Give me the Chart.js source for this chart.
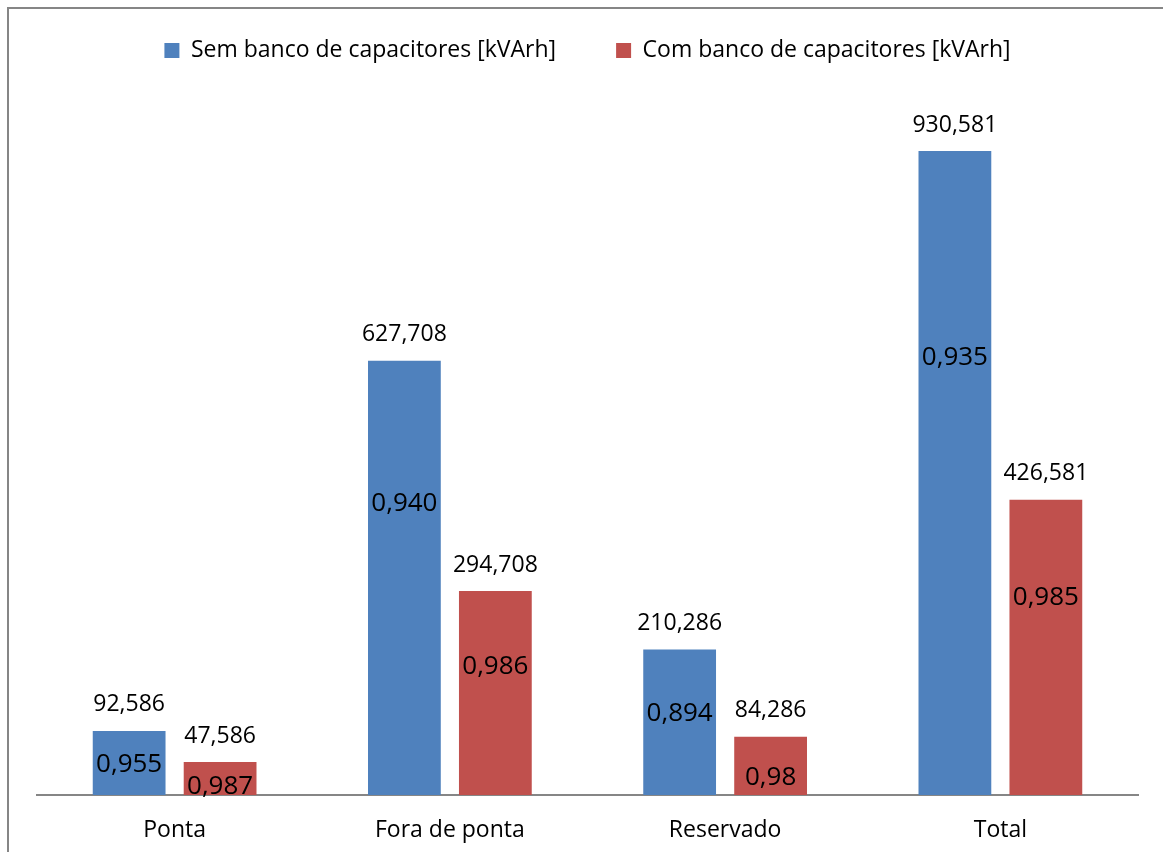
<!DOCTYPE html>
<html lang="pt">
  <head>
    <meta charset="UTF-8" />
    <title>Energia reativa</title>
    <script src="https://cdn.jsdelivr.net/npm/chart.js"></script>
    <style>
      html, body { margin: 0; padding: 0; background: #fff; }
      #wrap { width: 1163px; height: 852px; }
    </style>
  </head>
  <body>
    <div id="wrap"><canvas id="myChart"></canvas></div>

    <script>
      // categorias e series (kVArh)
      const categorias = ['Ponta', 'Fora de ponta', 'Reservado', 'Total'];
      const semBanco = [92.586, 627.708, 210.286, 930.581];
      const comBanco = [47.586, 294.708, 84.286, 426.581];
      // fator de potencia de cada barra
      const fpSem = ['0,955', '0,940', '0,894', '0,935'];
      const fpCom = ['0,987', '0,986', '0,98', '0,985'];

      const FONT = "'Open Sans', sans-serif";

      // moldura cinza (so topo e esquerda ficam visiveis)
      const moldura = {
        id: 'moldura',
        beforeDraw(chart) {
          const c = chart.ctx;
          c.save();
          c.strokeStyle = '#868686';
          c.lineWidth = 2;
          c.beginPath();
          c.moveTo(8, chart.height);
          c.lineTo(8, 8);
          c.lineTo(chart.width, 8);
          c.stroke();
          c.restore();
        }
      };

      // espaco extra abaixo da legenda
      const espacoLegenda = {
        id: 'espacoLegenda',
        beforeInit(chart) {
          const fit = chart.legend.fit;
          chart.legend.fit = function () {
            fit.bind(chart.legend)();
            this.height += 31;
          };
        }
      };

      // rotulos: valor acima da barra e fator de potencia dentro dela
      const rotulos = {
        id: 'rotulos',
        afterDatasetsDraw(chart, args, opts) {
          const c = chart.ctx;
          c.save();
          c.fillStyle = '#000';
          c.textAlign = 'center';
          c.textBaseline = 'middle';
          chart.data.datasets.forEach((ds, di) => {
            const meta = chart.getDatasetMeta(di);
            const fp = di === 0 ? fpSem : fpCom;
            const frac = opts.posicao[di];
            meta.data.forEach((bar, i) => {
              c.font = '23px ' + FONT;
              c.fillText(ds.data[i].toFixed(3).replace('.', ','), bar.x, bar.y - 26);
              c.font = '26px ' + FONT;
              const h = bar.base - bar.y;
              c.fillText(fp[i], bar.x, bar.base - frac[i] * h);
            });
          });
          c.restore();
        }
      };

      const ctx = document.getElementById('myChart').getContext('2d');
      new Chart(ctx, {
        type: 'bar',
        data: {
          labels: categorias,
          datasets: [
            {
              label: 'Sem banco de capacitores [kVArh]',
              data: semBanco,
              backgroundColor: '#4F81BD'
            },
            {
              label: 'Com banco de capacitores [kVArh]',
              data: comBanco,
              backgroundColor: '#C0504D'
            }
          ]
        },
        options: {
          responsive: true,
          maintainAspectRatio: false,
          animation: false,
          categoryPercentage: 0.661,
          barPercentage: 0.80,
          layout: { padding: { left: 37, right: 25, top: -21, bottom: -13 } },
          plugins: {
            legend: {
              position: 'top',
              labels: {
                boxWidth: 15,
                boxHeight: 15,
                padding: 60,
                color: '#000',
                font: { family: FONT, size: 23 }
              }
            },
            tooltip: { enabled: false },
            rotulos: {
              posicao: [
                [0.48, 0.67, 0.56, 0.68],
                [0.25, 0.63, 0.29, 0.67]
              ]
            }
          },
          scales: {
            x: {
              grid: { display: false, drawTicks: false },
              border: { color: '#868686', width: 2 },
              ticks: { color: '#000', padding: 12, font: { family: FONT, size: 23, lineHeight: 2 } }
            },
            y: { display: false, min: 0, max: 1000 }
          }
        },
        plugins: [moldura, espacoLegenda, rotulos]
      });
    </script>
  </body>
</html>
